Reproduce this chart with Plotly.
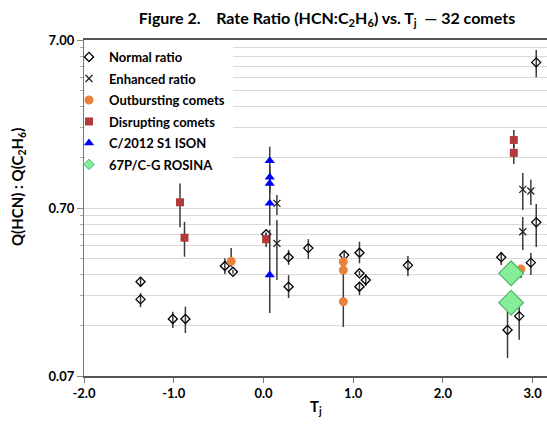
import plotly.graph_objects as go

# ---------------- data ----------------
normal_tj = [-1.37, -1.37, -1.01, -0.87, -0.43, -0.34, 0.03, 0.28, 0.28, 0.50, 0.90,
             1.07, 1.07, 1.14, 1.07, 1.61, 3.04, 3.04, 2.65, 2.98, 2.85, 2.72]
normal_q = [0.255, 0.200, 0.153, 0.153, 0.316, 0.292, 0.488, 0.356, 0.238, 0.404, 0.367,
            0.379, 0.286, 0.261, 0.238, 0.319, 5.15, 0.575, 0.356, 0.331, 0.159, 0.1315]
normal_hi = [0.272, 0.218, 0.169, 0.181, 0.352, 0.300, 0.500, 0.394, 0.279, 0.457, 0.385,
             0.441, 0.295, 0.283, 0.254, 0.362, 6.10, 0.740, 0.383, 0.378, 0.204, 0.178]
normal_lo = [0.237, 0.180, 0.135, 0.126, 0.283, 0.284, 0.475, 0.321, 0.204, 0.348, 0.343,
             0.328, 0.277, 0.240, 0.212, 0.275, 4.20, 0.410, 0.321, 0.279, 0.115, 0.0895]

enh_tj = [0.15, 0.15, 2.89, 2.98, 2.89]
enh_q = [0.746, 0.431, 0.904, 0.883, 0.506]
enh_hi = [0.836, 0.594, 1.13, 1.03, 0.618]
enh_lo = [0.635, 0.261, 0.681, 0.729, 0.394]

out_tj = [-0.36, 0.89, 0.89, 0.89, 2.87]
out_q = [0.337, 0.335, 0.299, 0.194, 0.303]
out_hi = [0.404, 0.345, 0.310, 0.287, 0.321]
out_lo = [0.312, 0.325, 0.290, 0.137, 0.268]

dis_tj = [-0.93, -0.88, 0.03, 2.79, 2.79]
dis_q = [0.757, 0.466, 0.456, 1.78, 1.49]
dis_hi = [0.98, 0.579, 0.497, 2.04, 1.70]
dis_lo = [0.537, 0.359, 0.410, 1.60, 1.28]

ison_tj = [0.07, 0.07, 0.07, 0.07, 0.07]
ison_q = [1.338, 1.066, 0.98, 0.746, 0.279]
ison_hi = [1.62, 1.25, 1.15, 0.90, 0.52]
ison_lo = [0.90, 0.90, 0.85, 0.55, 0.166]

ros_tj = [2.76, 2.76]
ros_q = [0.286, 0.191]

y_major = [0.07, 0.70, 7.00]
y_major_text = ["0.07", "0.70", "7.00"]
y_minor = [0.07 * k for k in range(2, 10)] + [0.7 * k for k in range(2, 10)]
x_ticks = [-2, -1, 0, 1, 2, 3]
x_tick_text = ["-2.0", "-1.0", "0.0", "1.0", "2.0", "3.0"]

# ---------------- styling ----------------
FONT = "Lato"
ERR_COLOR = "#3a3a3a"
NB = "\u00a0"


def err(q, hi, lo):
    return dict(type="data", symmetric=False,
                array=[h - v for v, h in zip(q, hi)],
                arrayminus=[v - l for v, l in zip(q, lo)],
                color=ERR_COLOR, thickness=1.5, width=0)


fig = go.Figure()

fig.add_trace(go.Scatter(
    x=normal_tj, y=normal_q, mode="markers", name="Normal ratio", legendgroup="g1",
    error_y=err(normal_q, normal_hi, normal_lo),
    marker=dict(symbol="diamond-open", size=7, color="black", line=dict(width=1.3, color="black"))))

fig.add_trace(go.Scatter(
    x=enh_tj, y=enh_q, mode="markers", name="Enhanced ratio", legendgroup="g2",
    error_y=err(enh_q, enh_hi, enh_lo),
    marker=dict(symbol="x-thin-open", size=7, color="#222222", line=dict(width=1.3, color="#222222"))))

fig.add_trace(go.Scatter(
    x=out_tj, y=out_q, mode="markers", name="Outbursting comets", legendgroup="g3",
    error_y=err(out_q, out_hi, out_lo),
    marker=dict(symbol="circle", size=9, color="#E8823A", line=dict(width=0))))

fig.add_trace(go.Scatter(
    x=dis_tj, y=dis_q, mode="markers", name="Disrupting comets", legendgroup="g4",
    error_y=err(dis_q, dis_hi, dis_lo),
    marker=dict(symbol="square", size=8, color="#B23A3C", line=dict(width=0))))

fig.add_trace(go.Scatter(
    x=ison_tj, y=ison_q, mode="markers", name="C/2012 S1 ISON", legendgroup="g5",
    error_y=err(ison_q, ison_hi, ison_lo),
    marker=dict(symbol="triangle-up", size=9, color="#0000FF", line=dict(width=0))))

# legend entry for ROSINA (small symbol, like the reference legend)
fig.add_trace(go.Scatter(
    x=[None], y=[None], mode="markers", name="67P/C-G ROSINA", legendgroup="g6",
    marker=dict(symbol="diamond", size=8, color="#86EE98", line=dict(width=1, color="#4DB870"))))

fig.add_trace(go.Scatter(
    x=ros_tj, y=ros_q, mode="markers", name="67P/C-G ROSINA", showlegend=False, legendgroup="g6",
    marker=dict(symbol="diamond", size=19, color="#86EE98", line=dict(width=1.2, color="#4DB870"))))

L, R, T, B = 84, 0, 40, 57
W, H = 547, 433
pw = W - L - R
ph = H - T - B


def px_x(p):
    return (p - L) / pw


def px_y(p):
    return (H - B - p) / ph


# white box behind the legend (hides grid lines like the reference)
fig.add_shape(type="rect", xref="paper", yref="paper",
              x0=px_x(85), x1=px_x(233), y0=px_y(176), y1=px_y(41.5),
              fillcolor="white", line=dict(width=0), layer="above")

title_text = ("Figure 2." + NB * 4 + "Rate Ratio (HCN:C<sub>2</sub>H<sub>6</sub>) vs. T<sub>j</sub>"
              + NB * 2 + "\u2014 32 comets")

fig.update_layout(
    width=W, height=H,
    margin=dict(l=L, r=R, t=T, b=B),
    paper_bgcolor="white", plot_bgcolor="white",
    font=dict(family=FONT, size=12, color="black"),
    title=dict(text=title_text,
               x=327 / W, xanchor="center", y=1 - 18 / H, yanchor="middle",
               font=dict(family=FONT, size=16, weight="bold", color="black")),
    showlegend=True,
    legend=dict(x=px_x(69), y=px_y(42), xanchor="left", yanchor="top",
                bgcolor="rgba(0,0,0,0)", borderwidth=0, tracegroupgap=1.6,
                font=dict(family=FONT, size=13, weight="bold", color="black"),
                itemsizing="trace"),
    xaxis=dict(range=[-2, 3.16], tickvals=x_ticks, ticktext=x_tick_text,
               showgrid=False, zeroline=False,
               showline=True, linecolor="#555555", linewidth=1.5, mirror=True,
               ticks="outside", ticklen=5, tickcolor="#777777",
               tickfont=dict(family=FONT, size=13, weight="bold", color="black")),
    yaxis=dict(type="log", range=[-1.1549, 0.8451],
               tickvals=y_major, ticktext=y_major_text,
               showgrid=True, gridcolor="#D9D9D9", gridwidth=1, zeroline=False,
               showline=True, linecolor="#777777", linewidth=1.2,
               ticks="outside", ticklen=6, tickcolor="#888888",
               tickfont=dict(family=FONT, size=13, weight="bold", color="black"),
               minor=dict(tickvals=y_minor, ticks="outside", ticklen=3, tickcolor="#aaaaaa",
                          showgrid=True, gridcolor="#D9D9D9", gridwidth=1)),
    annotations=[
        dict(text="Q(HCN) : Q(C<sub>2</sub>H<sub>6</sub>)", xref="paper", yref="paper",
             x=px_x(18), y=px_y(187), textangle=-90, showarrow=False,
             xanchor="center", yanchor="middle",
             font=dict(family=FONT, size=15, weight="bold", color="black")),
        dict(text="T<sub>j</sub>", xref="paper", yref="paper",
             x=px_x(316), y=px_y(407), showarrow=False,
             xanchor="center", yanchor="middle",
             font=dict(family=FONT, size=15, weight="bold", color="black")),
    ],
)

fig.write_html("out.html", config={"displayModeBar": False},
               post_script="document.body.style.margin='0px';")
